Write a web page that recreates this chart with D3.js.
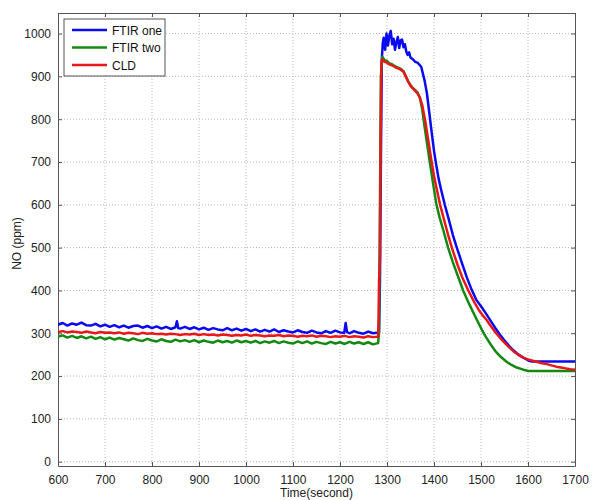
<!DOCTYPE html>
<html>
<head>
<meta charset="utf-8">
<script src="https://cdn.jsdelivr.net/npm/d3@7"></script>
<style>
  body { margin: 0; background: #fff; }
  svg { font-family: "Liberation Sans", Arial, sans-serif; }
  .grid line { stroke: #b8b8b8; stroke-dasharray: 1,2; }
  .axis text { font-size: 12px; fill: #222; }
</style>
</head>
<body>
<div class="vis"></div>
<script>
// series names and colours
const seriesNames = ["FTIR one", "FTIR two", "CLD"];
const seriesColors = ["#0a0af0", "#128a12", "#e8181a"];

const xTicks = [600, 700, 800, 900, 1000, 1100, 1200, 1300, 1400, 1500, 1600, 1700];
const yTicks = [0, 100, 200, 300, 400, 500, 600, 700, 800, 900, 1000];

// [time (s), NO (ppm)]
const ftirOne = [
  [600,320],[610,324],[620,318],[630,323],[640,320],[650,325],[660,319],[670,318],[680,322],[690,316],
  [700,320],[710,315],[720,319],[730,314],[740,318],[750,313],[760,317],[770,318],[780,313],[790,317],
  [800,312],[810,316],[820,311],[830,315],[840,310],[850,314],[853,328],[856,312],[860,311],[870,315],
  [880,310],[890,314],[900,309],[910,313],[920,308],[930,312],[940,309],[950,307],[960,312],[970,307],
  [980,311],[990,306],[1000,310],[1010,305],[1020,309],[1030,304],[1040,308],[1050,304],[1060,309],
  [1070,303],[1080,307],[1090,304],[1100,302],[1110,307],[1120,303],[1130,301],[1140,306],[1150,302],
  [1160,300],[1170,305],[1180,301],[1190,306],[1200,302],[1209,301],[1212,324],[1215,303],[1220,300],
  [1230,305],[1240,301],[1250,299],[1260,304],[1270,300],[1283,302],[1285,420],[1287,700],[1289,940],
  [1291,978],[1293,990],[1296,962],[1299,1000],[1302,972],[1305,995],[1308,1006],[1311,975],[1314,988],
  [1317,962],[1320,980],[1323,992],[1326,966],[1329,984],[1332,986],[1335,968],[1338,975],[1341,958],
  [1344,950],[1347,956],[1350,944],[1355,940],[1360,934],[1365,932],[1370,926],[1373,922],[1376,908],
  [1380,890],[1385,860],[1390,815],[1395,770],[1400,726],[1405,692],[1410,660],[1415,636],[1423,600],
  [1430,572],[1440,530],[1448,502],[1460,462],[1470,430],[1480,402],[1490,378],[1500,363],[1510,347],
  [1520,330],[1530,313],[1540,297],[1550,283],[1560,270],[1570,259],[1580,250],[1590,243],[1600,237],
  [1608,234],[1650,234],[1700,234]
];

const ftirTwo = [
  [600,292],[610,295],[620,290],[630,294],[640,289],[650,293],[660,288],[670,292],[680,287],[690,291],
  [700,286],[710,290],[720,285],[730,289],[740,286],[750,283],[760,288],[770,284],[780,282],[790,287],
  [800,283],[810,281],[820,286],[830,282],[840,280],[850,285],[860,281],[870,284],[880,280],[890,284],
  [900,279],[910,283],[920,280],[930,278],[940,283],[950,279],[960,282],[970,278],[980,283],[990,279],
  [1000,282],[1010,278],[1020,282],[1030,277],[1040,281],[1050,278],[1060,282],[1070,277],[1080,281],
  [1090,278],[1100,276],[1110,281],[1120,277],[1130,281],[1140,276],[1150,280],[1160,277],[1170,275],
  [1180,280],[1190,276],[1200,279],[1210,275],[1220,280],[1230,276],[1240,279],[1250,275],[1260,279],
  [1270,274],[1281,277],[1283,300],[1285,600],[1287,900],[1290,946],[1295,938],[1300,936],[1305,930],
  [1310,929],[1315,925],[1320,922],[1325,920],[1330,917],[1335,912],[1340,900],[1345,888],[1350,880],
  [1355,873],[1360,868],[1365,862],[1370,850],[1375,822],[1380,782],[1385,745],[1391,700],[1398,650],
  [1405,602],[1412,570],[1420,540],[1430,500],[1440,466],[1450,436],[1462,400],[1475,368],[1490,334],
  [1500,312],[1510,292],[1520,275],[1530,259],[1540,247],[1555,233],[1565,226],[1576,220],[1590,215],
  [1601,212],[1650,212],[1700,212]
];

const cld = [
  [600,303],[610,305],[620,302],[630,304],[640,303],[650,301],[660,304],[670,302],[680,300],[690,303],
  [700,301],[710,302],[720,300],[730,302],[740,299],[750,301],[760,300],[770,298],[780,301],[790,299],
  [800,300],[810,298],[820,299],[830,297],[840,299],[850,298],[860,296],[870,298],[880,297],[890,299],
  [900,296],[910,298],[920,296],[930,297],[940,295],[950,297],[960,296],[970,294],[980,296],[990,295],
  [1000,297],[1010,294],[1020,296],[1030,295],[1040,293],[1050,295],[1060,294],[1070,296],[1080,293],
  [1090,295],[1100,294],[1110,292],[1120,294],[1130,293],[1140,295],[1150,292],[1160,294],[1170,293],
  [1180,291],[1190,293],[1200,292],[1210,294],[1220,291],[1230,293],[1240,292],[1250,290],[1260,293],
  [1270,291],[1281,292],[1282,330],[1283,420],[1285,470],[1286,700],[1288,932],[1290,940],[1295,934],
  [1300,932],[1305,928],[1310,926],[1315,923],[1320,920],[1325,918],[1330,915],[1335,911],[1340,900],
  [1345,888],[1350,878],[1355,872],[1360,866],[1365,860],[1370,850],[1375,833],[1378,815],[1381,798],
  [1385,770],[1390,735],[1395,700],[1400,668],[1405,641],[1413,600],[1420,571],[1430,530],[1438,500],
  [1450,460],[1460,431],[1473,400],[1485,374],[1495,355],[1505,340],[1512,331],[1520,318],[1530,303],
  [1540,290],[1550,278],[1560,267],[1570,257],[1580,249],[1590,243],[1600,239],[1610,236],[1620,233],
  [1630,230],[1640,228],[1650,225],[1660,222],[1670,220],[1680,218],[1690,216],[1700,215]
];

const seriesData = [ftirOne, ftirTwo, cld];

const draw = () => {
  const W = 592, H = 500;
  const margin = { top: 13, right: 17, bottom: 34, left: 58 };
  const width = W - margin.left - margin.right;
  const height = H - margin.top - margin.bottom;

  const svg = d3.select(".vis").append("svg")
    .attr("width", W)
    .attr("height", H);

  const g = svg.append("g")
    .attr("transform", "translate(" + margin.left + "," + margin.top + ")");

  const x = d3.scaleLinear().domain([600, 1700]).range([0, width]);
  const y = d3.scaleLinear().domain([-10, 1048]).range([height, 0]);

  // dotted grid
  g.append("g").attr("class", "grid")
    .selectAll("line").data(xTicks.slice(1, -1)).join("line")
    .attr("x1", d => x(d)).attr("x2", d => x(d))
    .attr("y1", 0).attr("y2", height);
  g.append("g").attr("class", "grid")
    .selectAll("line").data(yTicks).join("line")
    .attr("x1", 0).attr("x2", width)
    .attr("y1", d => y(d)).attr("y2", d => y(d));

  // axes (ticks pointing inward, box on all sides)
  const fmt = d3.format("d");
  const axisStyle = (sel) => {
    sel.attr("class", "axis");
    sel.select(".domain").attr("stroke", "#555");
    sel.selectAll(".tick line").attr("stroke", "#555");
  };
  g.append("g").attr("transform", "translate(0," + height + ")")
    .call(d3.axisBottom(x).tickValues(xTicks).tickFormat(fmt).tickSizeInner(-4).tickSizeOuter(0).tickPadding(9))
    .call(axisStyle);
  g.append("g")
    .call(d3.axisTop(x).tickValues(xTicks).tickFormat("").tickSizeInner(-4).tickSizeOuter(0))
    .call(axisStyle);
  g.append("g")
    .call(d3.axisLeft(y).tickValues(yTicks).tickFormat(fmt).tickSizeInner(-4).tickSizeOuter(0).tickPadding(7))
    .call(axisStyle);
  g.append("g").attr("transform", "translate(" + width + ",0)")
    .call(d3.axisRight(y).tickValues(yTicks).tickFormat("").tickSizeInner(-4).tickSizeOuter(0))
    .call(axisStyle);

  // lines
  g.append("clipPath").attr("id", "clip")
    .append("rect").attr("width", width).attr("height", height);

  const line = d3.line().x(d => x(d[0])).y(d => y(d[1]));
  g.append("g").attr("clip-path", "url(#clip)")
    .selectAll("path").data(seriesData).join("path")
    .attr("d", line)
    .attr("fill", "none")
    .attr("stroke", (d, i) => seriesColors[i])
    .attr("stroke-width", 2.5)
    .attr("stroke-linejoin", "round");

  // labels
  svg.append("text")
    .attr("x", margin.left + width / 2).attr("y", H - 3)
    .attr("text-anchor", "middle").attr("font-size", 12).attr("fill", "#222")
    .text("Time(second)");
  svg.append("text")
    .attr("transform", "translate(21," + (margin.top + height / 2 + 4) + ") rotate(-90)")
    .attr("text-anchor", "middle").attr("font-size", 12).attr("fill", "#222")
    .text("NO (ppm)");

  // legend
  const lg = svg.append("g").attr("transform", "translate(64,19)");
  lg.append("rect").attr("width", 101).attr("height", 57)
    .attr("fill", "#fff").attr("stroke", "#555");
  const items = lg.selectAll("g").data(seriesNames).join("g")
    .attr("transform", (d, i) => "translate(0," + (11 + i * 17.5) + ")");
  items.append("line")
    .attr("x1", 8).attr("x2", 43)
    .attr("stroke", (d, i) => seriesColors[i]).attr("stroke-width", 2.5);
  items.append("text")
    .attr("x", 48).attr("y", 4.5)
    .attr("font-size", 12).attr("fill", "#111")
    .text(d => d);
};

draw();
</script>
</body>
</html>
